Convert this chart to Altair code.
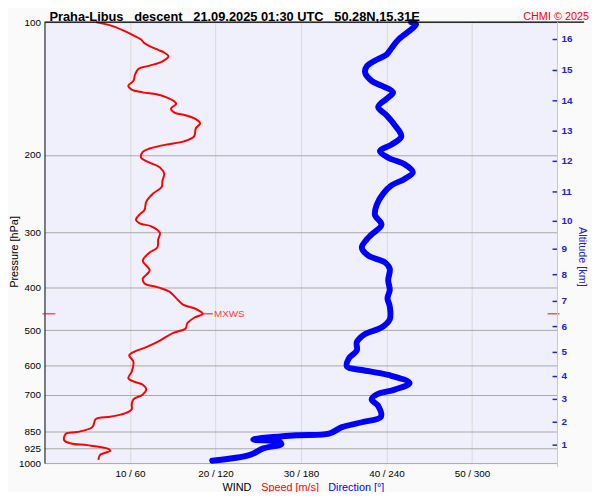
import altair as alt
import pandas as pd

# ---- data ----
speed_p = [100, 101.7, 104.4, 107.1, 109.5, 111.7, 113.3, 115.6, 117.2, 119.6,
           122.7, 125.5, 127.6, 131.4, 135.9, 139.4, 142.3, 144.3, 145.8, 148.0,
           151.4, 153.2, 157.1, 160.4, 162.6, 166.0, 169.7, 174.1, 181.6, 186.4,
           189.6, 193.5, 196.8, 203.0, 208.3, 213.6, 220.3, 228.7, 236.6, 244.8,
           255.5, 266.6, 272.1, 280.6, 286.4, 290.4, 300.5, 310.9, 324.4,
           332.9, 347.4, 365.6, 381.5, 391.4, 399.5, 408.5, 422.6, 437.3, 447.2,
           458.7, 468.2, 481.9, 495.2, 507.2, 527.5, 545.8, 560.0, 569.6, 589.4,
           620.3, 641.8, 652.8, 664.1, 681.3, 699.0, 717.1, 735.6, 754.7, 771.6,
           784.9, 794.3, 828.9, 850.4, 857.7, 887.5, 902.8, 910.6, 926.2, 937.3,
           958.3, 983.1]
speed = [6.0, 7.7, 9.2, 10.4, 11.3, 11.7, 12.3, 13.3, 14.0, 14.5,
         13.8, 12.3, 11.0, 10.6, 10.4, 9.8, 10.2, 11.5, 13.1, 14.2,
         15.2, 15.4, 14.8, 15.2, 16.5, 17.7, 18.2, 17.7, 17.5, 16.3,
         14.2, 12.3, 11.5, 11.3, 12.3, 13.5, 14.0, 13.8, 13.7, 12.7,
         11.9, 11.7, 11.2, 10.7, 11.2, 12.5, 13.5, 13.3, 13.2,
         12.3, 11.5, 12.3, 11.5, 11.7, 13.3, 14.6, 15.4, 16.2, 17.7,
         18.5, 17.5, 16.7, 16.5, 15.0, 13.5, 11.9, 10.4, 9.9, 10.4,
         10.2, 9.8, 10.4, 11.5, 11.9, 11.5, 10.4, 10.2, 10.2, 9.4,
         7.7, 6.0, 5.6, 3.8, 2.5, 2.3, 3.1, 5.0, 7.3, 7.7,
         6.5, 6.3]

dir_p = [100, 101.2, 105.3, 109.8, 114.6, 118.6, 121.7, 125.9, 130.2, 135.9,
         139.4, 144.3, 149.3, 155.8, 162.6, 171.2, 181.6, 189.6, 196.1, 203.0,
         210.1, 219.2, 226.8, 234.6, 244.8, 259.9, 273.5, 288.0, 303.0,
         310.9, 324.4, 338.6, 350.4, 362.5, 384.8, 405.0, 422.6, 441.0, 472.2,
         492.8, 509.8, 532.0, 555.2, 579.4, 604.6, 615.0, 631.0, 658.5, 681.3,
         699.0, 717.1, 742.0, 784.9, 808.0, 828.9, 857.7, 865.0, 884.5, 895.2,
         905.8, 926.2, 958.3, 988.1]
direction = [257.3, 260.8, 255.0, 248.1, 243.5, 240.0, 233.1, 226.2, 225.0, 229.6,
             236.5, 244.6, 240.0, 234.2, 240.0, 245.8, 250.4, 243.5, 235.4, 241.2,
             252.7, 258.5, 252.7, 243.5, 237.7, 233.1, 231.9, 236.5, 229.6,
             226.2, 222.7, 227.3, 238.8, 242.3, 241.2, 242.3, 240.7, 242.3, 242.3,
             236.5, 225.0, 219.2, 219.2, 213.5, 212.3, 222.7, 241.2, 256.2, 245.8,
             233.1, 229.6, 234.2, 236.1, 222.7, 208.8, 199.6, 176.5, 146.5, 165.0,
             166.2, 153.5, 144.2, 117.7]

p_levels = [100, 200, 300, 400, 500, 600, 700, 850, 925, 1000]
wind_ticks = [10, 20, 30, 40, 50]
alt_km = [1, 2, 3, 4, 5, 6, 7, 8, 9, 10, 11, 12, 13, 14, 15, 16]
alt_p = [910.6, 807.9, 717.1, 636.4, 561.0, 490.2, 429.9, 373.9, 327.3, 283.0,
         242.7, 206.9, 176.7, 150.8, 128.7, 109.5]
mxws_p = [458.7]
mxws_speed = [18.5]
mxws_label_speed = [19.7]

title_text = "Praha-Libus\u00a0\u00a0\u00a0descent\u00a0\u00a0\u00a021.09.2025 01:30 UTC\u00a0\u00a0\u00a050.28N,15.31E"

# ---- layout ----
W, H = 520, 447
FONT = "Liberation Sans"
BLUE = "#0000ff"
RED = "#ff0000"
AXBLUE = "#2020e0"

df_speed = pd.DataFrame({"p": speed_p, "s": speed, "i": range(len(speed))})
df_dir = pd.DataFrame({"p": dir_p, "d": direction, "i": range(len(direction))})
df_alt = pd.DataFrame({"p": alt_p, "km": alt_km})
df_mx = pd.DataFrame({"p": mxws_p, "s": mxws_speed, "s2": mxws_label_speed, "t": ["MXWS"]})
one = pd.DataFrame({"t": [""]})

yscale = alt.Scale(type="log", domain=[100, 1000], reverse=True, nice=False)
yaxis = alt.Axis(values=p_levels, grid=True, gridColor="#a8a8a8", ticks=False,
                 labelPadding=4, labelFontSize=10, labelColor="black",
                 labelFont=FONT, domainColor="black", labelFlush=False,
                 labelOverlap=False, format="d")
Y = alt.Y("p:Q", scale=yscale, axis=yaxis, title=None)

xscale = alt.Scale(domain=[0, 60], nice=False, zero=False)
xaxis = alt.Axis(values=wind_ticks, labelExpr="datum.value + ' / ' + datum.value*6",
                 grid=True, gridColor="#d8d8d8", domain=False, ticks=False,
                 labelPadding=6, labelFontSize=10, labelColor="black",
                 labelFont=FONT, labelFlush=False)
X = alt.X("s:Q", scale=xscale, axis=xaxis, title=None)

dir_line = alt.Chart(df_dir).transform_calculate(s="datum.d / 6").mark_line(
    color=BLUE, strokeWidth=6, strokeJoin="round", strokeCap="round",
    interpolate="catmull-rom"
).encode(x=X, y=Y, order="i:Q")

speed_line = alt.Chart(df_speed).mark_line(
    color=RED, strokeWidth=2, interpolate="catmull-rom"
).encode(x=X, y=Y, order="i:Q")

alt_ticks = alt.Chart(df_alt).mark_rule(color=AXBLUE, strokeWidth=1.5).encode(
    y=Y, x=alt.value(W - 5), x2=alt.value(W))
alt_labels = alt.Chart(df_alt).mark_text(
    align="left", baseline="middle", color=AXBLUE, fontSize=10, fontWeight="bold", font=FONT
).encode(y=Y, x=alt.value(W + 4), text="km:Q")

mx_left = alt.Chart(df_mx).mark_rule(color=RED, strokeWidth=1).encode(
    y=Y, x=alt.value(-2), x2=alt.value(11))
mx_right = alt.Chart(df_mx).mark_rule(color=RED, strokeWidth=1).encode(
    y=Y, x=alt.value(W - 10), x2=alt.value(W + 2))
mx_conn = alt.Chart(df_mx).mark_rule(color=RED, strokeWidth=1).encode(
    y=Y, x=X, x2="s2:Q")
mx_text = alt.Chart(df_mx).mark_text(
    align="left", baseline="middle", color="#ff4040", fontSize=10, font=FONT, dx=1
).encode(y=Y, x=alt.X("s2:Q", scale=xscale, axis=xaxis, title=None), text="t:N")

top_rule = alt.Chart(one).mark_rule(color="black", strokeWidth=1.5).encode(
    x=alt.value(0), x2=alt.value(W + 27), y=alt.value(0))
right_rule = alt.Chart(one).mark_rule(color="#c8c8cc", strokeWidth=1).encode(
    x=alt.value(W), y=alt.value(0), y2=alt.value(H + 4))

title = alt.Chart(one).mark_text(
    align="left", baseline="alphabetic", fontSize=13, fontWeight="bold", font=FONT, color="black"
).encode(x=alt.value(5), y=alt.value(-1.5), text=alt.value(title_text))
chmi = alt.Chart(one).mark_text(
    align="right", baseline="alphabetic", fontSize=11, font=FONT, color=RED
).encode(x=alt.value(552), y=alt.value(-2), text=alt.value("CHMI © 2025"))

wind_t = alt.Chart(one).mark_text(align="center", baseline="middle", fontSize=11, font=FONT,
                                  color="black").encode(
    x=alt.value(195), y=alt.value(472), text=alt.value("WIND"))
speed_t = alt.Chart(one).mark_text(align="center", baseline="middle", fontSize=11, font=FONT,
                                   color=RED).encode(
    x=alt.value(249), y=alt.value(472), text=alt.value("Speed [m/s]"))
dir_t = alt.Chart(one).mark_text(align="center", baseline="middle", fontSize=11, font=FONT,
                                 color=BLUE).encode(
    x=alt.value(316), y=alt.value(472), text=alt.value("Direction [°]"))
pres_t = alt.Chart(one).mark_text(align="center", baseline="middle", fontSize=11, font=FONT,
                                  color="black", angle=270).encode(
    x=alt.value(-30), y=alt.value(233), text=alt.value("Pressure [hPa]"))
altd_t = alt.Chart(one).mark_text(align="center", baseline="middle", fontSize=11, font=FONT,
                                  color=AXBLUE, angle=90).encode(
    x=alt.value(545), y=alt.value(238), text=alt.value("Altitude [km]"))

chart = alt.layer(
    dir_line, speed_line, alt_ticks, alt_labels, mx_left, mx_right, mx_conn, mx_text,
    top_rule, right_rule, title, chmi, wind_t, speed_t, dir_t, pres_t, altd_t
).properties(
    width=W, height=H,
    autosize=alt.AutoSizeParams(type="none"),
    padding={"left": 37, "top": 11, "right": 35, "bottom": 26},
    background="#fafafa",
).configure_view(fill="#f0f0fc", strokeWidth=0)

chart.save("out.html", embed_options={"renderer": "svg", "actions": False})
